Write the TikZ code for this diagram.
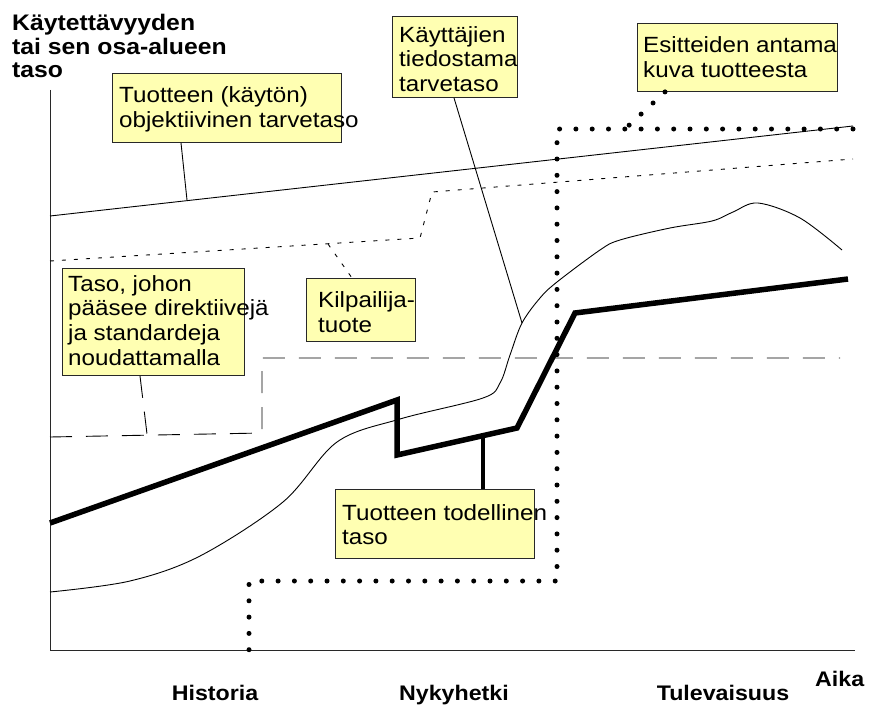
\documentclass[tikz,border=0pt]{standalone}
\usepackage{fontspec}
\setmainfont{Liberation Sans}[FakeStretch=1.1]
\definecolor{notey}{RGB}{255,255,178}
\definecolor{lineg}{RGB}{40,40,40}
\newcommand{\fl}{\rule{0pt}{15.8pt}}
\tikzset{
  ybox/.style={draw=lineg, fill=notey, line width=0.9pt, inner sep=0pt, rectangle, anchor=north west},
  txt/.style={anchor=north west, inner sep=0pt, align=left, font=\fontsize{22}{24.6}\selectfont},
  ttl/.style={anchor=north west, inner sep=0pt, align=left, font=\fontsize{22.5}{23.8}\selectfont\bfseries},
  axlab/.style={anchor=base, inner sep=0pt, font=\fontsize{21.1}{24}\selectfont\bfseries},
  axis/.style={draw=lineg, line width=1pt},
  thinl/.style={draw=black, line width=0.9pt},
  compl/.style={draw=black, line width=0.9pt, dash pattern=on 4pt off 8pt},
  stdl/.style={draw=black, line width=0.9pt, dash pattern=on 22pt off 14pt},
  actl/.style={draw=black, line width=5.5pt, line join=miter},
  bigdots/.style={draw=black, line width=5pt, line cap=round, dash pattern=on 0pt off 16.3pt},
}
\begin{document}
\begin{tikzpicture}[x=1pt, y=-1pt]
\useasboundingbox (0,0) rectangle (869,706);
% axes
\coordinate (o) at (50,650);
\coordinate (ytop) at (50,90);
\coordinate (xend) at (855,650);
\draw[axis] (ytop) -- (o) -- (xend);
% title and axis labels
\node[ttl] (title) at (12,13.7) {\fl Käytettävyyden\\tai sen osa-alueen\\taso};
\node[axlab] (hist) at (215,700) {Historia};
\node[axlab] (nyky) at (454,700) {Nykyhetki};
\node[axlab] (tule) at (723,700) {Tulevaisuus};
\node[axlab, anchor=base west] (aika) at (815,686) {Aika};
% objective need level
\coordinate (obj0) at (50,216);
\coordinate (obj1) at (853,126);
\coordinate (objA) at (187,200);
\draw[thinl] (obj0) -- (obj1);
% competitor product
\coordinate (cmp0) at (50,261);
\coordinate (cmpA) at (328,244);
\draw[compl] (cmp0) -- (420,238) -- (432,192) -- (853,159);
% standards level
\coordinate (std0) at (50,437);
\coordinate (stdA) at (147,434);
\draw[stdl] (std0) -- (262,433) -- (262,358) -- (840,358);
% users' perceived need curve
\coordinate (usrA) at (522,323);
\draw[thinl] plot[smooth, tension=0.55] coordinates {(50,592) (130,581) (200,556) (283,502) (337,442) (400,419) (483,398) (500,383) (510,355) (522,323) (540,298) (557,282) (600,250) (620,240) (670,228) (712,221) (733,212) (758,203) (800,218) (842,250)};
% actual level
\coordinate (actA) at (483,436);
\draw[actl] (50,523) -- (397,400) -- (397,455) -- (517,428) -- (575,313) -- (848,279);
% brochure image
\coordinate (broA) at (625,129);
\draw[bigdots] (853,129) -- (557,129) -- (557,581) -- (249,581) -- (249,650);
% boxes
\node[ybox, minimum width=229pt, minimum height=69pt] (boxA) at (112,73) {};
\node[ybox, minimum width=125pt, minimum height=81pt] (boxB) at (392,16) {};
\node[ybox, minimum width=200pt, minimum height=68pt] (boxC) at (637,23) {};
\node[ybox, minimum width=109pt, minimum height=63pt] (boxD) at (306,278) {};
\node[ybox, minimum width=182pt, minimum height=107pt] (boxE) at (62,268) {};
\node[ybox, minimum width=199pt, minimum height=69pt] (boxF) at (335,489) {};
% connectors
\draw[thinl] ([xshift=69pt]boxA.south west) -- (objA);
\draw[thinl] ([xshift=62pt]boxB.south west) -- (usrA);
\draw[bigdots] ([xshift=28pt]boxC.south west) -- (broA);
\draw[compl] (cmpA) -- ([xshift=46pt]boxD.north west);
\draw[stdl] ([xshift=78pt]boxE.south west) -- (stdA);
\draw[line width=4pt] (actA) -- ([xshift=148pt]boxF.north west);
% texts
\node[txt] (tA) at (119,86.5) {\fl Tuotteen (käytön)\\objektiivinen tarvetaso};
\node[txt] (tB) at (399,26.2) {\fl Käyttäjien\\tiedostama\\tarvetaso};
\node[txt] (tC) at (643,36.5) {\fl Esitteiden antama\\kuva tuotteesta};
\node[txt] (tD) at (318,291.7) {\fl Kilpailija-\\tuote};
\node[txt] (tE) at (68,275.2) {\fl Taso, johon\\pääsee direktiivejä\\ja standardeja\\noudattamalla};
\node[txt] (tF) at (342,504.2) {\fl Tuotteen todellinen\\taso};
\end{tikzpicture}
\end{document}
